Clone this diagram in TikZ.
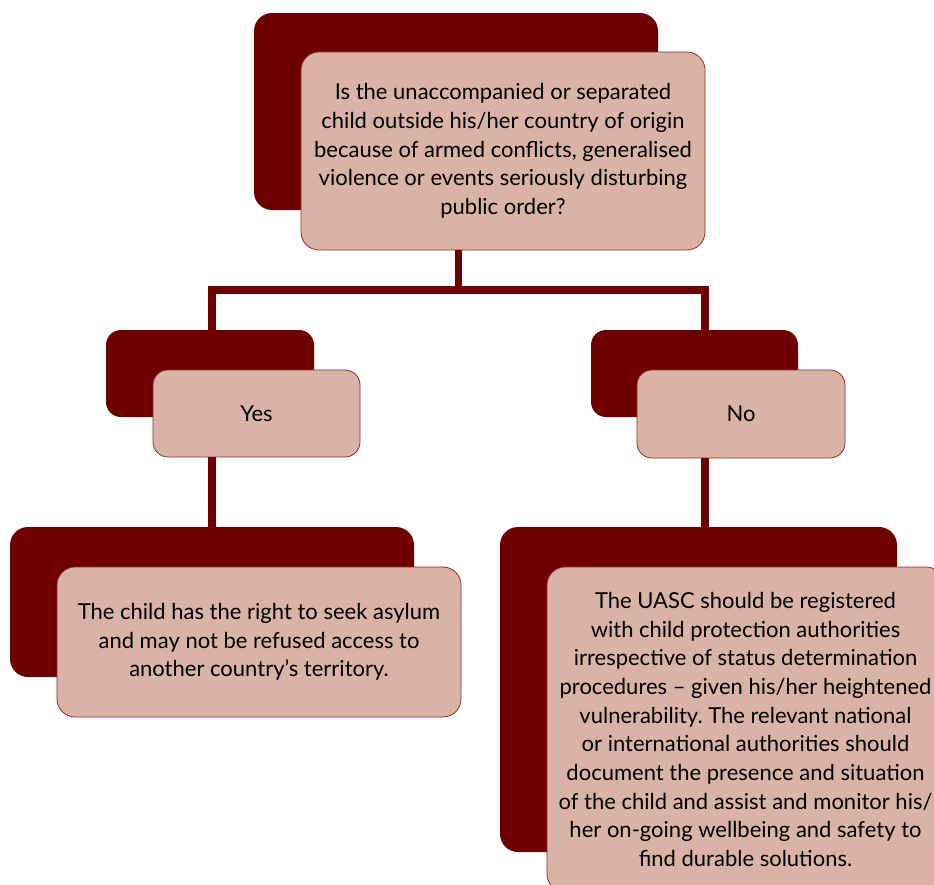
\documentclass[tikz,border=0pt]{standalone}
\usepackage{fontspec}
\setmainfont{Lato}
\usepackage{xcolor}
\definecolor{darkred}{HTML}{6E0000}
\definecolor{rosy}{HTML}{D9B4A6}
\definecolor{edgered}{HTML}{8E2A2A}
\frenchspacing

\begin{document}
\begin{tikzpicture}[x=1pt,y=-1pt,
  backbox/.style={fill=darkred,rounded corners=18pt,inner sep=0pt},
  frontbox/.style={fill=rosy,draw=edgered,line width=0.8pt,rounded corners=18pt,
    align=center,inner sep=0pt,font=\fontsize{22}{28.7}\selectfont},
  link/.style={draw=darkred,line width=7.5pt}]
\useasboundingbox (0,0) rectangle (934,884);
\clip (0,0) rectangle (934,884);

% question
\node[backbox,minimum width=404pt,minimum height=197pt] (qback) at (456,111.5) {};
\node[frontbox,minimum width=404pt,minimum height=198pt] (q) at (503,151)
  {Is the unaccompanied or separated\\child outside his/her country of origin\\because of armed conflicts, generalised\\violence or events seriously disturbing\\public order?};

% answers
\node[backbox,minimum width=208pt,minimum height=87pt,rounded corners=15pt] (yesback) at (210,373.5) {};
\node[frontbox,minimum width=207pt,minimum height=87pt,rounded corners=15pt] (yes) at (256.5,413.5) {Yes};
\node[backbox,minimum width=207pt,minimum height=87pt,rounded corners=15pt] (noback) at (694.5,373.5) {};
\node[frontbox,minimum width=208pt,minimum height=88pt,rounded corners=15pt] (no) at (741,414) {No};

% outcomes
\node[backbox,minimum width=404pt,minimum height=150pt] (asylumback) at (212,602) {};
\node[frontbox,minimum width=404pt,minimum height=150pt] (asylum) at (259,642)
  {The child has the right to seek asylum\\and may not be refused access to\\another country’s territory.};
\node[backbox,minimum width=397pt,minimum height=325pt] (uascback) at (698.5,689.5) {};
\node[frontbox,minimum width=397pt,minimum height=325pt] (uasc) at (745.5,729.5)
  {The UASC should be registered\\with child protection authorities\\irrespective of status determination\\procedures – given his/her heightened\\vulnerability. The relevant national\\or international authorities should\\document the presence and situation\\of the child and assist and monitor his/\\her on-going wellbeing and safety to\\find durable solutions.};

% connectors
\coordinate (jl) at (212,290);
\coordinate (jt) at (458.5,290);
\coordinate (jr) at (705,290);
\draw[link] (q.south -| jt) -- (jt);
\draw[link] (yesback.north -| jl) -- (jl) -- (jr) -- (noback.north -| jr);
\draw[link] (yes.south -| jl) -- (asylumback.north -| jl);
\draw[link] (no.south -| jr) -- (uascback.north -| jr);
\end{tikzpicture}
\end{document}
